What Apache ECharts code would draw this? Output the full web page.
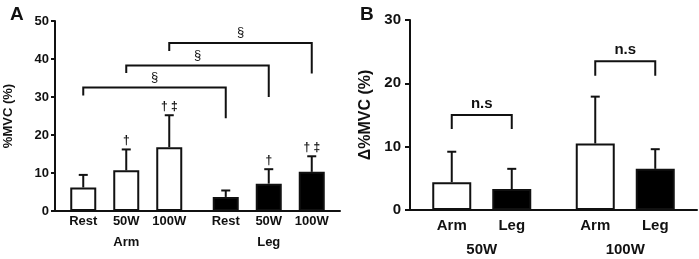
<!DOCTYPE html>
<html>
<head>
<meta charset="utf-8">
<script src="https://cdn.jsdelivr.net/npm/echarts@6/dist/echarts.min.js"></script>
<style>
html, body { margin: 0; padding: 0; background: #fff; }
#chart { width: 699px; height: 259px; }
</style>
</head>
<body>
<div id="chart"></div>
<script>
// Panel A: %MVC by limb and load (mean, SD)
const limbs = ['Arm', 'Leg'];
const loads = ['Rest', '50W', '100W'];
const armMean = [6.2, 10.7, 16.8];
const armSD = [3.3, 5.5, 8.4];
const legMean = [3.7, 7.2, 10.3];
const legSD = [1.7, 3.8, 4.1];
const armMarks = ['', '†', '† ‡'];
const legMarks = ['', '†', '† ‡'];
// § brackets, arm vs leg at the same load
const bracketTop = [32.5, 38.3, 44.2];
const bracketArmEnd = [30.4, 36.3, 42.1];
const bracketLegEnd = [24.4, 30.0, 36.2];

// Panel B: delta %MVC
const loadsB = ['50W', '100W'];
const deltaArm = [4.4, 10.5];
const deltaArmSD = [4.8, 7.4];
const deltaLeg = [3.3, 6.5];
const deltaLegSD = [3.2, 3.1];
const nsTop = [15.0, 23.5];
const nsEnd = [12.8, 21.2];

const font = '"Liberation Sans", Arial, sans-serif';
const ink = '#111';
const bwA = 26, gapA = 17;
const bwB = 39, gapB = 21;

const chart = echarts.init(document.getElementById('chart'));

function offset(k, n, bw, gap) {
    return (k - (n - 1) / 2) * (bw + gap);
}

function errRenderer(rows, n, bw, gap) {
    return function (params, api) {
        const r = rows[params.dataIndex];
        const base = api.coord([r.cat, r.mean]);
        const tip = api.coord([r.cat, r.mean + r.sd]);
        const x = base[0] + offset(r.k, n, bw, gap);
        const children = [
            { type: 'line', shape: { x1: x, y1: base[1], x2: x, y2: tip[1] }, style: { stroke: ink, lineWidth: 2 } },
            { type: 'line', shape: { x1: x - 4.5, y1: tip[1], x2: x + 4.5, y2: tip[1] }, style: { stroke: ink, lineWidth: 2 } }
        ];
        if (r.mark) {
            children.push({
                type: 'text', x: x, y: tip[1] - 3,
                style: { text: r.mark, font: 'bold 12px ' + font, fill: ink, align: 'center', verticalAlign: 'bottom' }
            });
        }
        return { type: 'group', children: children };
    };
}

function bracketRenderer(rows, n, bw, gap, textFont) {
    return function (params, api) {
        const r = rows[params.dataIndex];
        const x1 = api.coord([r.c1, 0])[0] + offset(r.k1, n, bw, gap);
        const x2 = api.coord([r.c2, 0])[0] + offset(r.k2, n, bw, gap);
        const yTop = api.coord([r.c1, r.top])[1];
        const y1 = api.coord([r.c1, r.end1])[1];
        const y2 = api.coord([r.c1, r.end2])[1];
        return {
            type: 'group',
            children: [
                { type: 'polyline', shape: { points: [[x1, y1], [x1, yTop], [x2, yTop], [x2, y2]] }, style: { stroke: ink, lineWidth: 2, fill: null } },
                { type: 'text', x: (x1 + x2) / 2, y: yTop - 4, style: { text: r.text, font: textFont, fill: ink, align: 'center', verticalAlign: 'bottom' } }
            ]
        };
    };
}

// rows for panel A
const errA = [];
const brA = [];
loads.forEach((load, k) => {
    errA.push({ cat: 0, k: k, mean: armMean[k], sd: armSD[k], mark: armMarks[k] });
    errA.push({ cat: 1, k: k, mean: legMean[k], sd: legSD[k], mark: legMarks[k] });
    brA.push({ c1: 0, k1: k, c2: 1, k2: k, top: bracketTop[k], end1: bracketArmEnd[k], end2: bracketLegEnd[k], text: '§' });
});

// rows for panel B
const errB = [];
const brB = [];
loadsB.forEach((load, c) => {
    errB.push({ cat: c, k: 0, mean: deltaArm[c], sd: deltaArmSD[c] });
    errB.push({ cat: c, k: 1, mean: deltaLeg[c], sd: deltaLegSD[c] });
    brB.push({ c1: c, k1: 0, c2: c, k2: 1, top: nsTop[c], end1: nsEnd[c], end2: nsEnd[c], text: 'n.s' });
});

const axisLine = { show: true, lineStyle: { color: ink, width: 2 } };

const seriesA = loads.map((load, k) => ({
    name: load,
    type: 'bar',
    xAxisIndex: 0, yAxisIndex: 0,
    data: [armMean[k], legMean[k]],
    barWidth: bwA,
    barGap: (gapA / bwA * 100) + '%',
    itemStyle: {
        color: p => p.dataIndex === 0 ? '#fff' : '#000',
        borderColor: ink, borderWidth: 2
    },
    label: {
        show: true, position: 'bottom', distance: 4, formatter: '{a}',
        color: ink, fontFamily: font, fontWeight: 'bold', fontSize: 13
    },
    animation: false
}));

const seriesB = ['Arm', 'Leg'].map((limb, k) => ({
    name: limb,
    type: 'bar',
    xAxisIndex: 1, yAxisIndex: 1,
    data: k === 0 ? deltaArm : deltaLeg,
    barWidth: bwB,
    barGap: (gapB / bwB * 100) + '%',
    itemStyle: { color: k === 0 ? '#fff' : '#000', borderColor: ink, borderWidth: 2 },
    label: {
        show: true, position: 'bottom', distance: 8, formatter: '{a}',
        color: ink, fontFamily: font, fontWeight: 'bold', fontSize: 15
    },
    animation: false
}));

chart.setOption({
    animation: false,
    title: [
        { text: 'A', left: 5, top: 0, textStyle: { fontFamily: font, fontWeight: 'bold', fontSize: 19, color: ink } },
        { text: 'B', left: 355, top: 0, textStyle: { fontFamily: font, fontWeight: 'bold', fontSize: 19, color: ink } }
    ],
    grid: [
        { left: 55, top: 21, width: 285, height: 190 },
        { left: 410, top: 20, width: 287, height: 190 }
    ],
    xAxis: [
        {
            gridIndex: 0, type: 'category', data: limbs,
            axisLine: axisLine, axisTick: { show: false },
            axisLabel: { margin: 25, color: ink, fontFamily: font, fontWeight: 'bold', fontSize: 13 }
        },
        {
            gridIndex: 1, type: 'category', data: loadsB,
            axisLine: axisLine, axisTick: { show: false },
            axisLabel: { margin: 32, color: ink, fontFamily: font, fontWeight: 'bold', fontSize: 15 }
        }
    ],
    yAxis: [
        {
            gridIndex: 0, type: 'value', min: 0, max: 50, interval: 10,
            name: '%MVC (%)', nameLocation: 'middle', nameRotate: 90, nameGap: 40,
            nameTextStyle: { color: ink, fontFamily: font, fontWeight: 'bold', fontSize: 13 },
            axisLine: axisLine, axisTick: { show: true, length: 4, lineStyle: { color: ink, width: 2 } },
            splitLine: { show: false },
            axisLabel: { margin: 6, color: ink, fontFamily: font, fontWeight: 'bold', fontSize: 13 }
        },
        {
            gridIndex: 1, type: 'value', min: 0, max: 30, interval: 10,
            name: 'Δ%MVC (%)', nameLocation: 'middle', nameRotate: 90, nameGap: 36,
            nameTextStyle: { color: ink, fontFamily: font, fontWeight: 'bold', fontSize: 16 },
            axisLine: axisLine, axisTick: { show: true, length: 5, lineStyle: { color: ink, width: 2 } },
            splitLine: { show: false },
            axisLabel: { margin: 9, color: ink, fontFamily: font, fontWeight: 'bold', fontSize: 15 }
        }
    ],
    series: seriesA.concat(seriesB, [
        {
            type: 'custom', xAxisIndex: 0, yAxisIndex: 0, z: 3,
            data: errA.map(r => [r.cat, r.mean + r.sd]),
            renderItem: errRenderer(errA, loads.length, bwA, gapA)
        },
        {
            type: 'custom', xAxisIndex: 0, yAxisIndex: 0, z: 3,
            data: brA.map(r => [r.c1, r.top]),
            renderItem: bracketRenderer(brA, loads.length, bwA, gapA, '13px ' + font)
        },
        {
            type: 'custom', xAxisIndex: 1, yAxisIndex: 1, z: 3,
            data: errB.map(r => [r.cat, r.mean + r.sd]),
            renderItem: errRenderer(errB, 2, bwB, gapB)
        },
        {
            type: 'custom', xAxisIndex: 1, yAxisIndex: 1, z: 3,
            data: brB.map(r => [r.c1, r.top]),
            renderItem: bracketRenderer(brB, 2, bwB, gapB, 'bold 15px ' + font)
        }
    ])
});

window.addEventListener('resize', () => chart.resize());
</script>
</body>
</html>
